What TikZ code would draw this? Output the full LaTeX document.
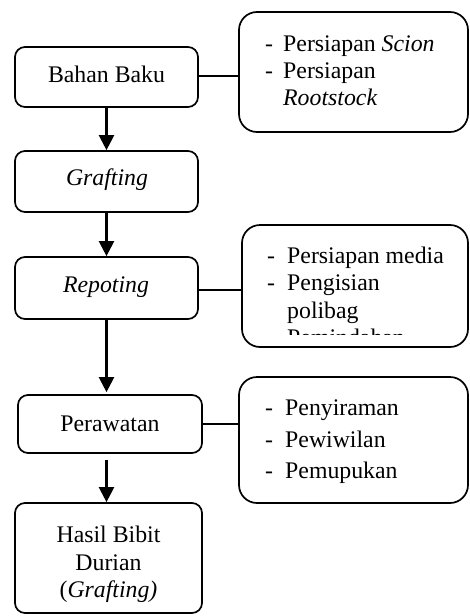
\documentclass[tikz,border=0pt]{standalone}
\usepackage{fontspec}
\setmainfont{Liberation Serif}
\usetikzlibrary{arrows.meta}
\begin{document}
\begin{tikzpicture}[x=1pt,y=-1pt,
  lbox/.style={draw,line width=1.7pt,rounded corners=10pt,inner sep=0pt},
  rbox/.style={draw,line width=1.7pt,rounded corners=18pt,inner sep=0pt},
  txt/.style={inner sep=0pt,anchor=base,font=\fontsize{23.8}{27}\selectfont},
  ltxt/.style={inner sep=0pt,anchor=base west,font=\fontsize{23.8}{27}\selectfont},
  arr/.style={line width=2.2pt,-{Triangle[width=15pt,length=15pt]}},
  link/.style={line width=1.5pt}]
\useasboundingbox (0,0) rectangle (470,616);
% left boxes
\node[lbox,minimum width=183pt,minimum height=60pt] (b1) at (106.5,77) {};
\node[lbox,minimum width=183pt,minimum height=61pt] (b2) at (106.5,181.5) {};
\node[lbox,minimum width=183pt,minimum height=62pt] (b3) at (106.5,288) {};
\node[lbox,minimum width=184pt,minimum height=58pt] (b4) at (110,424) {};
\node[lbox,minimum width=187pt,minimum height=110pt] (b5) at (108.5,558) {};
\node[txt] (t1) at (106.5,82) {Bahan Baku};
\node[txt] (t2) at (107,185) {\textit{Grafting}};
\node[txt] (t3) at (106,292) {\textit{Repoting}};
\node[txt] (t4) at (110,431) {Perawatan};
\node[txt] (t5a) at (108.5,542) {Hasil Bibit};
\node[txt] (t5b) at (108.5,570) {Durian};
\node[txt] (t5c) at (108.5,597) {(\textit{Grafting)}};
% right boxes
\node[rbox,minimum width=229pt,minimum height=120pt] (r1) at (353.5,72) {};
\node[rbox,minimum width=226pt,minimum height=122pt] (r2) at (355,286) {};
\node[rbox,minimum width=229pt,minimum height=126pt] (r3) at (353.5,440) {};
% right box 1 text
\node[ltxt] (d11) at (265,51) {-};
\node[ltxt] (s11) at (283,51) {Persiapan \textit{Scion}};
\node[ltxt] (d12) at (265,78) {-};
\node[ltxt] (s12) at (283,78) {Persiapan};
\node[ltxt] (s13) at (283,105) {\textit{Rootstock}};
% right box 2 text
\node[ltxt] (d21) at (267,263) {-};
\node[ltxt] (s21) at (287,263) {Persiapan media};
\node[ltxt] (d22) at (267,290.5) {-};
\node[ltxt] (s22) at (287,290.5) {Pengisian};
\node[ltxt] (s23) at (287,318) {polibag};
\begin{scope}
\clip (250,320) rectangle (460,334);
\node[ltxt] (d24) at (267,345.5) {-};
\node[ltxt] (s24) at (287,345.5) {Pemindahan};
\end{scope}
% right box 3 text
\node[ltxt] (d31) at (265,415) {-};
\node[ltxt] (s31) at (285,415) {Penyiraman};
\node[ltxt] (d32) at (265,447) {-};
\node[ltxt] (s32) at (285,447) {Pewiwilan};
\node[ltxt] (d33) at (265,478) {-};
\node[ltxt] (s33) at (285,478) {Pemupukan};
% arrow end points
\coordinate (a3e) at ([yshift=2pt]b3.south |- b4.north);
\coordinate (a4s) at ([yshift=-6pt]b3.south |- b4.south);
\coordinate (a4e) at (b3.south |- b5.north);
% arrows
\draw[arr] (b1.south) -- (b2.north);
\draw[arr] (b2.south) -- (b3.north);
\draw[arr] (b3.south) -- (a3e);
\draw[arr] (a4s) -- (a4e);
% links
\draw[link] ([yshift=1pt]b1.east) -- ([yshift=1pt]b1.east -| r1.west);
\draw[link] ([yshift=-2pt]b3.east) -- ([yshift=-2pt]b3.east -| r2.west);
\draw[link] (b4.east) -- (b4.east -| r3.west);
\end{tikzpicture}
\end{document}
